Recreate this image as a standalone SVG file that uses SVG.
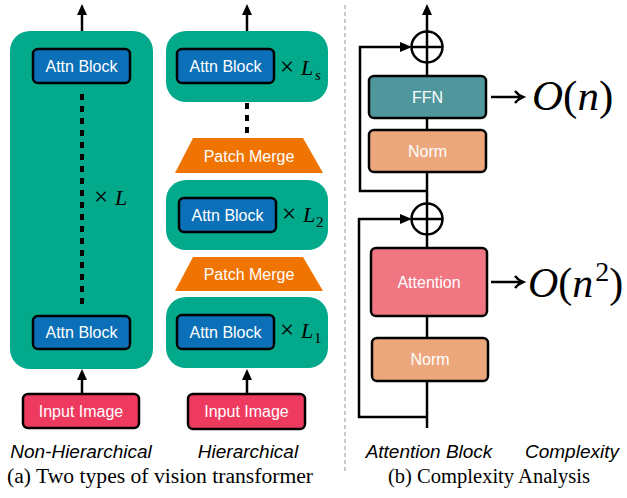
<svg xmlns="http://www.w3.org/2000/svg" width="627" height="498" viewBox="0 0 627 498">
<defs>
<style>
.bg{fill:#ffffff}
.stage{fill:#03a98b}
.attn{fill:#0b70b7;stroke:#000;stroke-width:2.5}
.merge{fill:#f07402}
.input{fill:#ef3a5f;stroke:#000;stroke-width:2.5}
.ffn{fill:#4f979c;stroke:#000;stroke-width:2.5}
.norm{fill:#eda77c;stroke:#000;stroke-width:2.5}
.att{fill:#f07682;stroke:#000;stroke-width:2.5}
.lbl{font-family:"Liberation Sans",Arial,sans-serif;font-size:16px;fill:#fff;text-anchor:middle}
.cap{font-family:"Liberation Sans",Arial,sans-serif;font-size:19px;font-style:italic;fill:#000;text-anchor:middle}
.title{font-family:"Liberation Serif","Times New Roman",serif;font-size:20px;fill:#000}
.math{font-family:"Liberation Serif","Times New Roman",serif;fill:#000}
.it{font-style:italic}
.line{stroke:#000;stroke-width:2.5;fill:none}
.dash{stroke:#000;stroke-width:4;stroke-dasharray:6 6;fill:none}
.head{fill:#000}
.plus{fill:#fff;stroke:#000;stroke-width:2.5}
</style>
</defs>
<rect class="bg" x="0" y="0" width="627" height="498"/>

<!-- separator -->
<line x1="345" y1="5" x2="345" y2="472" stroke="#cccccc" stroke-width="2" stroke-dasharray="4 3"/>

<!-- Non-hierarchical -->
<g id="nonhier-stage">
  <rect class="stage" x="10" y="31" width="143" height="338" rx="20"/>
  <text class="math" x="94" y="205" font-size="25">×</text>
  <text class="math it" x="115" y="205" font-size="22">L</text>
</g>
<g id="nonhier-attn-top">
  <rect class="attn" x="33" y="49" width="97" height="34" rx="5"/>
  <text class="lbl" x="81.5" y="71.5">Attn Block</text>
</g>
<g id="nonhier-attn-bottom">
  <rect class="attn" x="33" y="316" width="97" height="33" rx="5"/>
  <text class="lbl" x="81.5" y="338">Attn Block</text>
</g>
<g id="nonhier-input">
  <rect class="input" x="23" y="394" width="116" height="34" rx="5"/>
  <text class="lbl" x="81" y="416.5">Input Image</text>
</g>

<!-- Hierarchical -->
<g id="hier-stage-s">
  <rect class="stage" x="166" y="31" width="162" height="71" rx="20"/>
  <rect class="attn" x="177" y="49" width="97" height="34" rx="5"/>
  <text class="lbl" x="225.5" y="71.5">Attn Block</text>
  <text class="math" x="280" y="75" font-size="25">×</text>
  <text class="math it" x="301" y="75" font-size="22">L</text>
  <text class="math it" x="315" y="80" font-size="15">s</text>
</g>
<g id="hier-merge-2">
  <polygon class="merge" points="193,138 303,138 323,173 175,173"/>
  <text class="lbl" x="249" y="161.5">Patch Merge</text>
</g>
<g id="hier-stage-2">
  <rect class="stage" x="166" y="180" width="162" height="70" rx="20"/>
  <rect class="attn" x="179" y="198" width="97" height="34" rx="5"/>
  <text class="lbl" x="227.5" y="220.5">Attn Block</text>
  <text class="math" x="282" y="222" font-size="25">×</text>
  <text class="math it" x="303" y="222" font-size="22">L</text>
  <text class="math" x="316" y="227" font-size="15">2</text>
</g>
<g id="hier-merge-1">
  <polygon class="merge" points="193,257 303,257 323,291 175,291"/>
  <text class="lbl" x="249" y="280">Patch Merge</text>
</g>
<g id="hier-stage-1">
  <rect class="stage" x="166" y="297" width="162" height="71" rx="20"/>
  <rect class="attn" x="177" y="315" width="97" height="34" rx="5"/>
  <text class="lbl" x="225.5" y="337.5">Attn Block</text>
  <text class="math" x="280" y="338" font-size="25">×</text>
  <text class="math it" x="301" y="338" font-size="22">L</text>
  <text class="math" x="314" y="343" font-size="15">1</text>
</g>
<g id="hier-input">
  <rect class="input" x="188" y="394" width="117" height="35" rx="5"/>
  <text class="lbl" x="246.5" y="417">Input Image</text>
</g>

<!-- Attention block -->
<g id="add-top">
  <circle class="plus" cx="427" cy="47" r="15.5"/>
  <line class="line" x1="427" y1="31.5" x2="427" y2="62.5"/>
  <line class="line" x1="411.5" y1="47" x2="442.5" y2="47"/>
</g>
<g id="ffn">
  <rect class="ffn" x="369" y="76" width="117" height="42" rx="5"/>
  <text class="lbl" x="427.5" y="102.5">FFN</text>
</g>
<g id="norm-top">
  <rect class="norm" x="369" y="130" width="117" height="42" rx="5"/>
  <text class="lbl" x="427.5" y="156.5">Norm</text>
</g>
<g id="add-bottom">
  <circle class="plus" cx="427" cy="219" r="15.5"/>
  <line class="line" x1="427" y1="203.5" x2="427" y2="234.5"/>
  <line class="line" x1="411.5" y1="219" x2="442.5" y2="219"/>
</g>
<g id="attention">
  <rect class="att" x="371" y="248" width="116" height="68" rx="5"/>
  <text class="lbl" x="429" y="287.5">Attention</text>
</g>
<g id="norm-bottom">
  <rect class="norm" x="372" y="338" width="116" height="43" rx="5"/>
  <text class="lbl" x="430" y="365">Norm</text>
</g>

<!-- connectors -->
<g id="connectors">
  <!-- left column -->
  <line class="line" x1="82" y1="31" x2="82" y2="14"/>
  <polygon class="head" points="77,15 87,15 82,4"/>
  <line class="dash" x1="82" y1="94" x2="82" y2="305"/>
  <line class="line" x1="82" y1="394" x2="82" y2="379"/>
  <polygon class="head" points="77,380 87,380 82,369"/>
  <!-- middle column -->
  <line class="line" x1="247" y1="31" x2="247" y2="14"/>
  <polygon class="head" points="242,15 252,15 247,4"/>
  <line class="dash" x1="247" y1="103" x2="247" y2="135"/>
  <line class="line" x1="247" y1="394" x2="247" y2="379"/>
  <polygon class="head" points="242,380 252,380 247,369"/>
  <!-- right column main path -->
  <line class="line" x1="427" y1="428" x2="427" y2="382"/>
  <line class="line" x1="427" y1="337" x2="427" y2="317"/>
  <line class="line" x1="427" y1="247" x2="427" y2="234.5"/>
  <line class="line" x1="427" y1="203.5" x2="427" y2="173"/>
  <line class="line" x1="427" y1="129" x2="427" y2="119"/>
  <line class="line" x1="427" y1="75" x2="427" y2="62.5"/>
  <line class="line" x1="427" y1="31.5" x2="427" y2="14"/>
  <polygon class="head" points="422,15 432,15 427,4"/>
  <!-- skip connections -->
  <polyline class="line" points="427,191 360,191 360,47 401,47"/>
  <polygon class="head" points="400,42 400,52 412,47"/>
  <polyline class="line" points="427,417 359,417 359,219 401,219"/>
  <polygon class="head" points="400,214 400,224 412,219"/>
  <!-- complexity arrows -->
  <path class="line" d="M491,97 H522 M515,91 Q518,95 523,97 Q518,99 515,103"/>
  <path class="line" d="M491,282 H522 M515,276 Q518,280 523,282 Q518,284 515,288"/>
</g>

<!-- complexity -->
<text class="math" x="532" y="110" font-size="43"><tspan class="it">O</tspan>(<tspan class="it">n</tspan>)</text>
<text class="math" x="528" y="297" font-size="42"><tspan class="it">O</tspan>(<tspan class="it">n</tspan><tspan font-size="28" dx="2" dy="-16">2</tspan><tspan dy="16">)</tspan></text>

<!-- captions -->
<text class="cap" x="81" y="458">Non-Hierarchical</text>
<text class="cap" x="248" y="458">Hierarchical</text>
<text class="cap" x="429" y="458">Attention Block</text>
<text class="cap" x="572" y="458">Complexity</text>
<text class="title" x="7" y="483" textLength="306" lengthAdjust="spacingAndGlyphs">(a) Two types of vision transformer</text>
<text class="title" x="388" y="483" textLength="202" lengthAdjust="spacingAndGlyphs">(b) Complexity Analysis</text>
</svg>
